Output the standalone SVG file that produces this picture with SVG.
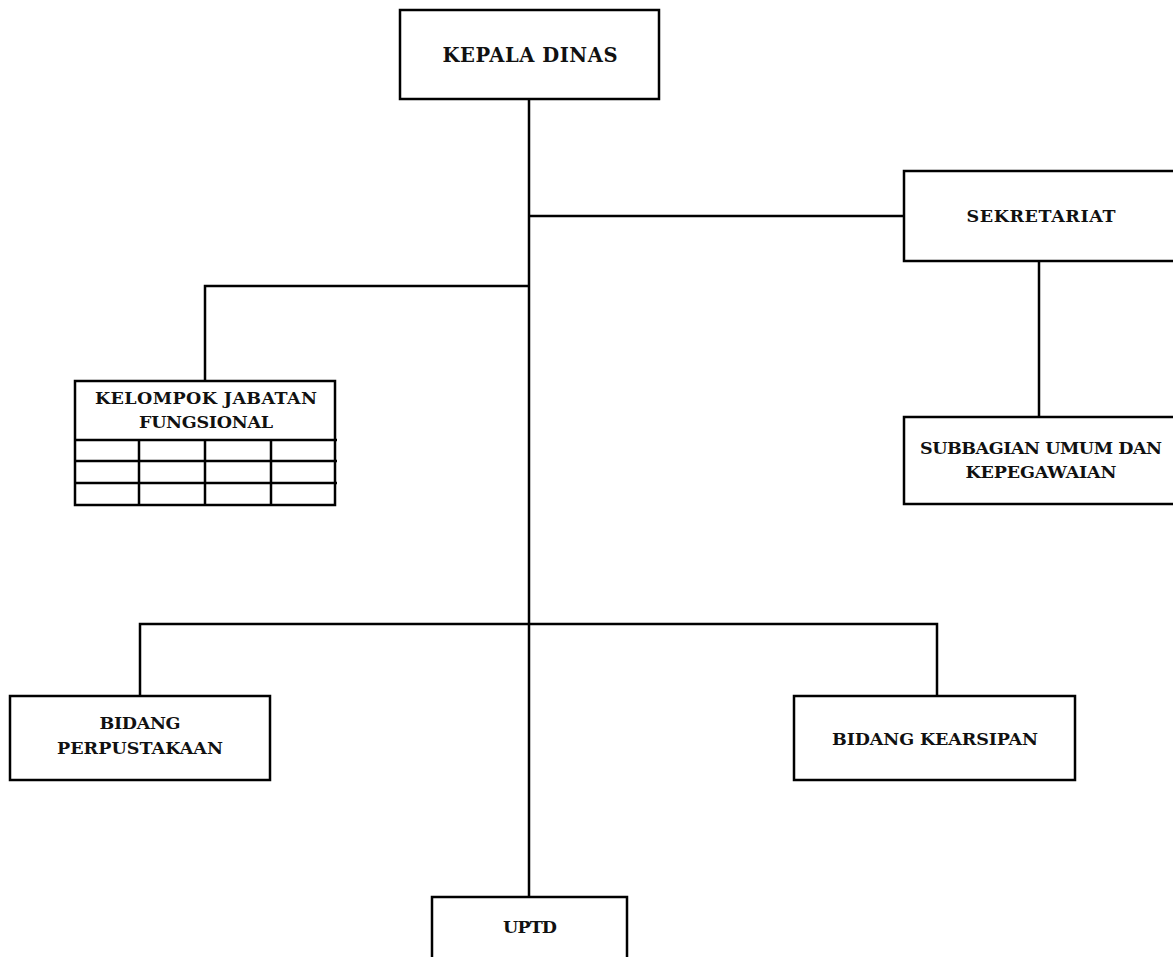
<svg xmlns="http://www.w3.org/2000/svg" width="1173" height="957" viewBox="0 0 1173 957">
  <style>
    .box { fill: #ffffff; stroke: #000000; stroke-width: 2.5; }
    .link { fill: none; stroke: #000000; stroke-width: 2.5; }
    .grid { fill: none; stroke: #000000; stroke-width: 2.5; }
    .label { font-family: "DejaVu Serif", "Liberation Serif", serif; font-weight: bold; font-size: 17.5px; fill: #111111; text-anchor: middle; }
    .title { font-size: 19.5px; }
  </style>
  <rect width="1173" height="957" fill="#ffffff"/>

  <!-- connectors -->
  <g id="connectors">
    <path class="link" d="M529,99 V897"/>
    <path class="link" d="M529,216 H904"/>
    <path class="link" d="M1039,261 V417"/>
    <path class="link" d="M529,286 H205 V381"/>
    <path class="link" d="M140,696 V624 H937 V696"/>
  </g>

  <g id="kepala-dinas">
    <rect class="box" x="400" y="10" width="259" height="89"/>
    <text class="label title" x="530" y="62" textLength="175">KEPALA DINAS</text>
  </g>

  <g id="sekretariat">
    <rect class="box" x="904" y="171" width="272" height="90"/>
    <text class="label" x="1041" y="222" textLength="149">SEKRETARIAT</text>
  </g>

  <g id="subbagian-umum">
    <rect class="box" x="904" y="417" width="272" height="87"/>
    <text class="label" x="1041" y="454" textLength="242">SUBBAGIAN UMUM DAN</text>
    <text class="label" x="1041" y="478" textLength="151">KEPEGAWAIAN</text>
  </g>

  <g id="kelompok-jabatan">
    <rect class="box" x="75" y="381" width="260" height="124"/>
    <text class="label" x="206" y="404" textLength="222">KELOMPOK JABATAN</text>
    <text class="label" x="206" y="428" textLength="134">FUNGSIONAL</text>
    <path class="grid" d="M75,440 H337 M75,461 H337 M75,483 H337 M139,440 V505 M205,440 V505 M271,440 V505"/>
  </g>

  <g id="bidang-perpustakaan">
    <rect class="box" x="10" y="696" width="260" height="84"/>
    <text class="label" x="140" y="729" textLength="81">BIDANG</text>
    <text class="label" x="140" y="754" textLength="166">PERPUSTAKAAN</text>
  </g>

  <g id="bidang-kearsipan">
    <rect class="box" x="794" y="696" width="281" height="84"/>
    <text class="label" x="935" y="745" textLength="206">BIDANG KEARSIPAN</text>
  </g>

  <g id="uptd">
    <rect class="box" x="432" y="897" width="195" height="80"/>
    <text class="label" x="530" y="933" textLength="54">UPTD</text>
  </g>
</svg>
